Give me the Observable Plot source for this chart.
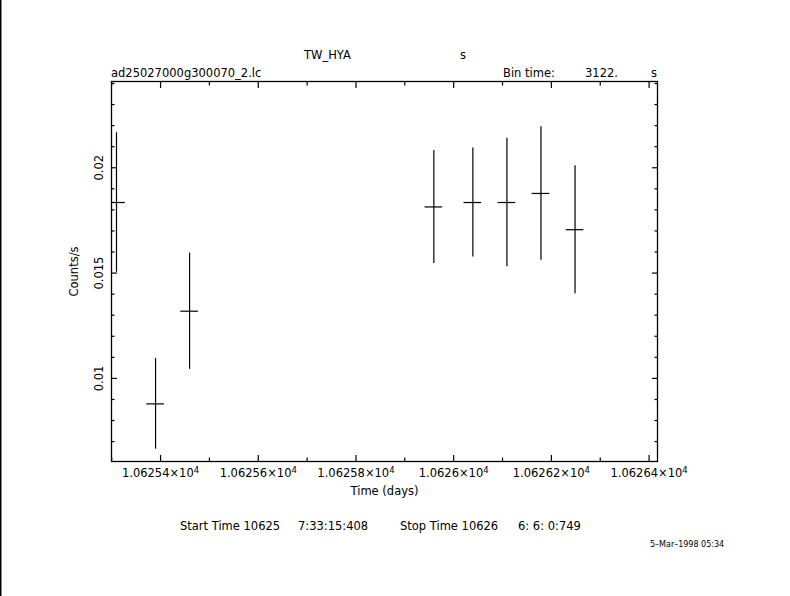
<!DOCTYPE html>
<html>
<head>
<meta charset="utf-8">
<script src="https://cdn.jsdelivr.net/npm/d3@7"></script>
<script src="https://cdn.jsdelivr.net/npm/@observablehq/plot@0.6"></script>
<style>
  html, body { margin: 0; padding: 0; background: white; }
  svg text { white-space: pre; }
</style>
</head>
<body>
<div id="chart"></div>
<script>
// ---- data ----
const times  = [10625.3098, 10625.3898, 10625.4594, 10625.9594, 10626.0393, 10626.1090, 10626.1787, 10626.2484]; // days
const rates  = [0.01835, 0.00879, 0.01319, 0.01814, 0.01835, 0.01835, 0.01878, 0.01706];                       // counts/s
const errors = [0.00331, 0.00215, 0.00276, 0.00268, 0.00259, 0.00305, 0.00317, 0.00304];
const binTimeSec = 3122;

const xMajor = [10625.4, 10625.6, 10625.8, 10626.0, 10626.2, 10626.4];
const xMinor = [10625.3, 10625.5, 10625.7, 10625.9, 10626.1, 10626.3];
const xTickLabels = ["1.06254×10⁴", "1.06256×10⁴", "1.06258×10⁴", "1.0626×10⁴", "1.06262×10⁴", "1.06264×10⁴"];
const yMajor = [0.01, 0.015, 0.02];
const yMinor = [0.007, 0.008, 0.009, 0.011, 0.012, 0.013, 0.014, 0.016, 0.017, 0.018, 0.019, 0.021, 0.022, 0.023, 0.024];
const yTickLabels = ["0.01", "0.015", "0.02"];

const xDomain = [10625.2996, 10626.4172];
const yDomain = [0.006055, 0.024095];

const halfBin = binTimeSec / 2 / 86400;
const rows = times.map((t, i) => ({t, r: rates[i], e: errors[i]}));

const FONT = "DejaVu Sans";
const FS = 11.5;

// tick-only axis (no text, no label)
function ticksX(values, anchor, size) {
  return Plot.axisX(values, {anchor, tickSize: size, dy: anchor === "bottom" ? -size : size,
    fill: "none", tickFormat: () => "", label: null, strokeWidth: 1.2});
}
function ticksY(values, anchor, size) {
  return Plot.axisY(values, {anchor, tickSize: size, dx: anchor === "left" ? size : -size,
    fill: "none", tickFormat: () => "", label: null, strokeWidth: 1.2});
}

const plot = Plot.plot({
  width: 790,
  height: 596,
  marginLeft: 111,
  marginRight: 133,
  marginTop: 81,
  marginBottom: 135,
  style: {fontFamily: FONT, fontSize: FS + "px", background: "white", color: "black"},
  x: {domain: xDomain, axis: null},
  y: {domain: yDomain, axis: null},
  marks: [
    Plot.frame({stroke: "black", strokeWidth: 1.3}),
    // inward ticks on all four sides
    ticksX(xMajor, "bottom", 6), ticksX(xMinor, "bottom", 3.5),
    ticksX(xMajor, "top", 6),    ticksX(xMinor, "top", 3.5),
    ticksY(yMajor, "left", 6),   ticksY(yMinor, "left", 3.5),
    ticksY(yMajor, "right", 6),  ticksY(yMinor, "right", 3.5),
    // tick labels
    Plot.text(xMajor, {x: d => d, text: (d, i) => xTickLabels[i], frameAnchor: "bottom",
      lineAnchor: "top", dy: 7, fontSize: FS, fill: "black"}),
    Plot.text(yMajor, {y: d => d, text: (d, i) => yTickLabels[i], frameAnchor: "left",
      rotate: -90, textAnchor: "middle", lineAnchor: "middle", dx: -12, fontSize: FS, fill: "black"}),
    // axis labels
    Plot.text(["Counts/s"], {frameAnchor: "left", rotate: -90, textAnchor: "middle",
      lineAnchor: "middle", dx: -37, fontSize: FS, fill: "black"}),
    Plot.text(["Time (days)"], {frameAnchor: "bottom", lineAnchor: "top", dy: 25, fontSize: FS, fill: "black"}),
    // error bars
    Plot.ruleX(rows, {x: "t", y1: d => d.r - d.e, y2: d => d.r + d.e, stroke: "black", strokeWidth: 1.2, clip: "frame"}),
    Plot.ruleY(rows, {y: "r", x1: d => d.t - halfBin, x2: d => d.t + halfBin, stroke: "black", strokeWidth: 1.2, clip: "frame"})
  ]
});

document.getElementById("chart").appendChild(plot);

const svg = d3.select(plot);

// turn the "⁴" of the x tick labels into a real raised superscript
svg.selectAll("text").filter(function () { return this.textContent.includes("⁴"); }).each(function () {
  const base = this.textContent.replace("⁴", "");
  const t = d3.select(this);
  t.text(null);
  t.append("tspan").text(base);
  t.append("tspan").attr("dy", "-0.45em").attr("font-size", 8.5).text("4");
});

// header / footer annotations
function label(txt, x, y, anchor = "start", size = FS) {
  svg.append("text").attr("x", x).attr("y", y).attr("text-anchor", anchor)
    .attr("font-family", FONT).attr("font-size", size).attr("fill", "black").text(txt);
}
label("TW_HYA", 304, 59);
label("s", 460, 59);
label("ad25027000g300070_2.lc", 111, 77);
label("Bin time:", 503, 77);
label("3122.", 585, 77);
label("s", 657, 77, "end");
label("Start Time 10625", 180, 530);
label("7:33:15:408", 298, 530);
label("Stop Time 10626", 400, 530);
label("6: 6: 0:749", 518, 530);
label("5\u2013Mar\u20131998 05:34", 650, 547, "start", 8);
svg.append("rect").attr("x", 0).attr("y", 0).attr("width", 1.5).attr("height", 596).attr("fill", "black");
</script>
</body>
</html>
